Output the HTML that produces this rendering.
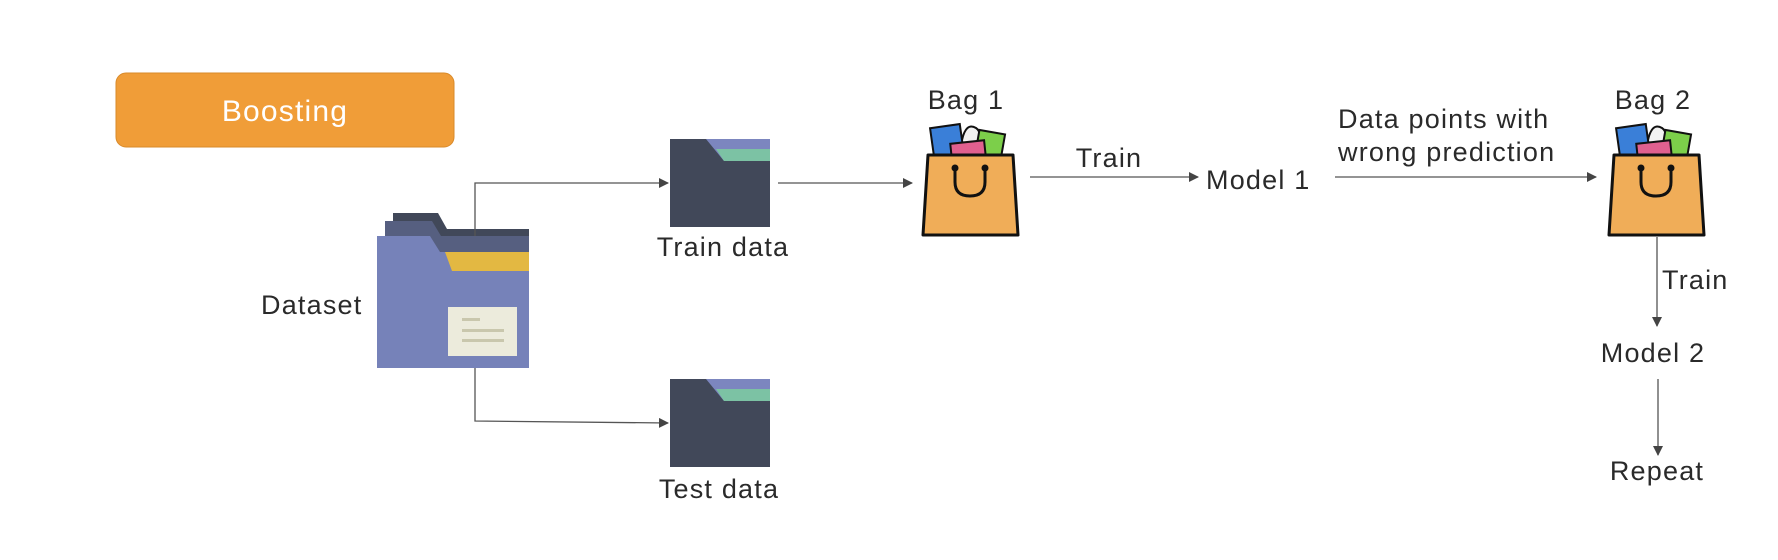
<!DOCTYPE html>
<html><head><meta charset="utf-8"><style>
html,body{margin:0;padding:0;background:#fff;}
svg{display:block;}
text{font-family:"Liberation Sans",sans-serif;fill:#2a2a2a;font-size:27px;letter-spacing:1.2px;}
</style></head><body>
<svg width="1778" height="560" viewBox="0 0 1778 560" xmlns="http://www.w3.org/2000/svg">
<defs>
<marker id="ar" markerWidth="10" markerHeight="10" refX="9" refY="5" orient="auto" markerUnits="userSpaceOnUse">
<path d="M0,0 L10,5 L0,10 z" fill="#444"/></marker>
<g id="bag">
<path d="M962 140 q4 -18 14 -12 q6 4 2 14" fill="#f2f2f2" stroke="#111" stroke-width="2"/>
<rect x="932" y="126" width="30" height="30" fill="#3a7fd8" stroke="#111" stroke-width="2" transform="rotate(-8 947 141)"/>
<rect x="977" y="132" width="26" height="26" fill="#7ccf4a" stroke="#111" stroke-width="2" transform="rotate(10 990 145)"/>
<rect x="951" y="142" width="34" height="16" fill="#e0608f" stroke="#111" stroke-width="2" transform="rotate(-6 968 150)"/>
<path d="M928 155 L1013 155 L1018 235 L923 235 Z" fill="#f0ad58" stroke="#111" stroke-width="3" stroke-linejoin="round"/>
<circle cx="955" cy="168" r="3.5" fill="#111"/><circle cx="985" cy="168" r="3.5" fill="#111"/>
<path d="M955 168 L955 182 Q955 196 970 196 Q985 196 985 182 L985 168" fill="none" stroke="#111" stroke-width="3"/>
</g>
<g id="file">
<rect x="670" y="0" width="100" height="88" fill="#414859"/>
<path d="M706 0 L770 0 L770 22 L724 22 Z" fill="#7c86bf"/>
<path d="M716 10 L770 10 L770 22 L724 22 Z" fill="#7cc2a4"/>
</g>
</defs>

<rect x="116" y="73" width="338" height="74" rx="10" fill="#f09d38" stroke="#d98a2a" stroke-width="1"/>
<text x="285" y="121" style="font-size:30px;fill:#fff" text-anchor="middle">Boosting</text>

<path d="M393 213 L438 213 L447 229 L529 229 L529 245 L393 245 Z" fill="#414859"/>
<path d="M385 221 L432 221 L441 236 L529 236 L529 260 L385 260 Z" fill="#565f80"/>
<path d="M377 236 L430 236 L440 252 L529 252 L529 368 L377 368 Z" fill="#7682b9"/>
<path d="M445 252 L529 252 L529 271 L452 271 Z" fill="#e3b842"/>
<rect x="448" y="307" width="69" height="49" fill="#ecebdc"/>
<rect x="462" y="318" width="18" height="3" fill="#c9c7ad"/>
<rect x="462" y="329" width="42" height="3" fill="#c9c7ad"/>
<rect x="462" y="339" width="42" height="3" fill="#c9c7ad"/>
<text x="261" y="314">Dataset</text>

<polyline points="475,236 475,183 668,183" fill="none" stroke="#555" stroke-width="1.3" marker-end="url(#ar)"/>
<polyline points="475,368 475,421 668,423" fill="none" stroke="#555" stroke-width="1.3" marker-end="url(#ar)"/>

<use href="#file" transform="translate(0,139)"/>
<use href="#file" transform="translate(0,379)"/>
<text x="723" y="256" text-anchor="middle">Train data</text>
<text x="719" y="498" text-anchor="middle">Test data</text>

<line x1="778" y1="183" x2="912" y2="183" stroke="#555" stroke-width="1.3" marker-end="url(#ar)"/>
<use href="#bag"/>
<text x="966" y="109" text-anchor="middle">Bag 1</text>

<line x1="1030" y1="177" x2="1198" y2="177" stroke="#555" stroke-width="1.3" marker-end="url(#ar)"/>
<text x="1109" y="167" text-anchor="middle">Train</text>
<text x="1206" y="189">Model 1</text>

<line x1="1335" y1="177" x2="1596" y2="177" stroke="#555" stroke-width="1.3" marker-end="url(#ar)"/>
<text x="1338" y="128">Data points with</text>
<text x="1338" y="161">wrong prediction</text>

<use href="#bag" transform="translate(686,0)"/>
<text x="1653" y="109" text-anchor="middle">Bag 2</text>

<line x1="1657" y1="237" x2="1657" y2="326" stroke="#555" stroke-width="1.3" marker-end="url(#ar)"/>
<text x="1662" y="289">Train</text>
<text x="1653" y="362" text-anchor="middle">Model 2</text>
<line x1="1658" y1="379" x2="1658" y2="455" stroke="#555" stroke-width="1.3" marker-end="url(#ar)"/>
<text x="1657" y="480" text-anchor="middle">Repeat</text>
</svg>
</body></html>
